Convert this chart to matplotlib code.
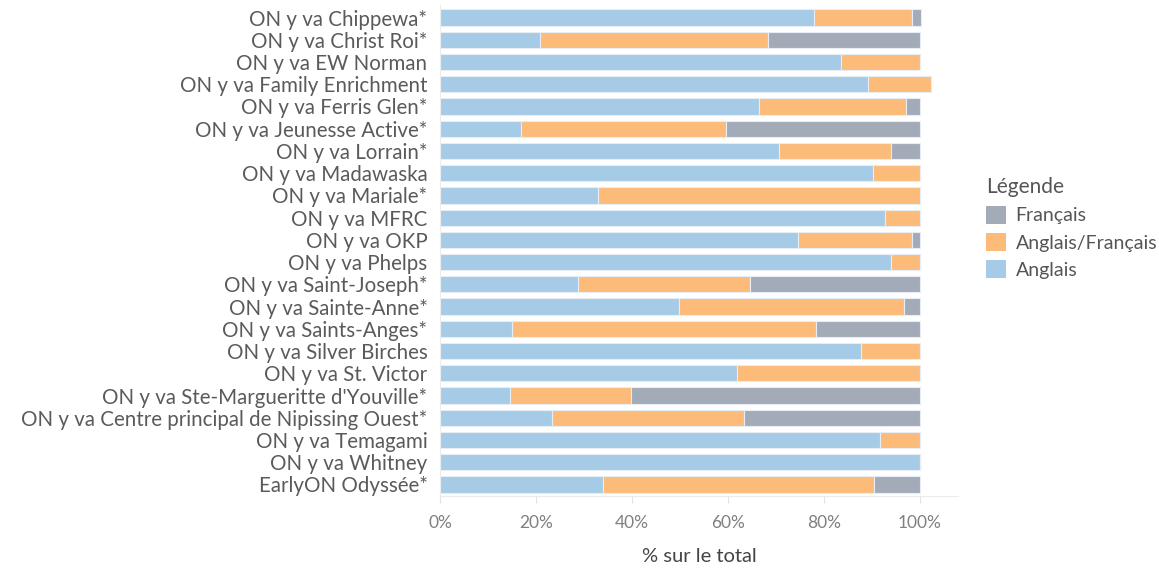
import numpy as np
from matplotlib import pyplot as plt
from matplotlib.patches import Patch

# rows, top to bottom
sites = ['ON y va Chippewa*', 'ON y va Christ Roi*', 'ON y va EW Norman',
         'ON y va Family Enrichment', 'ON y va Ferris Glen*',
         'ON y va Jeunesse Active*', 'ON y va Lorrain*', 'ON y va Madawaska',
         'ON y va Mariale*', 'ON y va MFRC', 'ON y va OKP', 'ON y va Phelps',
         'ON y va Saint-Joseph*', 'ON y va Sainte-Anne*',
         'ON y va Saints-Anges*', 'ON y va Silver Birches',
         'ON y va St. Victor', "ON y va Ste-Margueritte d'Youville*",
         'ON y va Centre principal de Nipissing Ouest*', 'ON y va Temagami',
         'ON y va Whitney', 'EarlyON Odyssée*']

# % of total
anglais = [78.0, 20.9, 83.5, 89.1, 66.5, 16.9, 70.6, 90.3, 32.9, 92.8, 74.6,
           93.9, 28.7, 49.9, 15.1, 87.7, 61.8, 14.5, 23.4, 91.7, 100.0, 33.9]
bilingue = [20.4, 47.5, 16.5, 13.2, 30.5, 42.6, 23.4, 9.7, 67.1, 7.2, 23.8,
            6.1, 35.9, 46.8, 63.3, 12.3, 38.2, 25.3, 39.9, 8.3, 0.0, 56.5]
francais = [1.8, 31.6, 0.0, 0.0, 3.0, 40.5, 6.0, 0.0, 0.0, 0.0, 1.6,
            0.0, 35.4, 3.3, 21.6, 0.0, 0.0, 60.2, 36.7, 0.0, 0.0, 9.6]

series_names = ['Anglais', 'Anglais/Français', 'Français']
colors = ['#a6cbe7', '#fdbb7a', '#a2abb7']

plt.rcParams['font.family'] = ['Lato', 'DejaVu Sans']

fig = plt.figure(figsize=(11.59, 5.71), dpi=100)
ax = fig.add_axes([0.3796, 0.1313, 0.4473, 0.8594])

y = np.arange(len(sites))
a = np.array(anglais)
b = np.array(bilingue)
f = np.array(francais)

kw = dict(height=0.73, edgecolor='#e6edf4', linewidth=0.8)
ax.barh(y, a, color=colors[0], **kw)
ax.barh(y, b, left=a, color=colors[1], **kw)
ax.barh(y, f, left=a + b, color=colors[2], **kw)

ax.set_ylim(21.52, -0.55)
ax.set_xlim(0, 108)
ax.set_yticks(y)
ax.set_yticklabels(sites, fontsize=14.8, color='#5a5a5a')
ax.tick_params(axis='y', length=0, pad=9)

ax.set_xticks([0, 20, 40, 60, 80, 100])
ax.set_xticklabels(['0%', '20%', '40%', '60%', '80%', '100%'],
                   fontsize=12.5, color='#808080')
ax.tick_params(axis='x', length=5, color='#e3e3e3', pad=9)
ax.set_xlabel('% sur le total', fontsize=14.5, color='#444444', labelpad=12)

for side in ['top', 'right']:
    ax.spines[side].set_visible(False)
for side in ['left', 'bottom']:
    ax.spines[side].set_color('#ececec')

handles = [Patch(facecolor=colors[2], label='Français'),
           Patch(facecolor=colors[1], label='Anglais/Français'),
           Patch(facecolor=colors[0], label='Anglais')]
leg = fig.legend(handles=handles, title='Légende', loc='upper left',
                 bbox_to_anchor=(0.836, 0.72), frameon=False, fontsize=14,
                 title_fontsize=15, handlelength=1.0, handleheight=1.0,
                 handletextpad=0.5, labelspacing=0.45, alignment='left')
for t in leg.get_texts():
    t.set_color('#555555')
leg.get_title().set_color('#555555')

fig.savefig('out.png', dpi=100)
